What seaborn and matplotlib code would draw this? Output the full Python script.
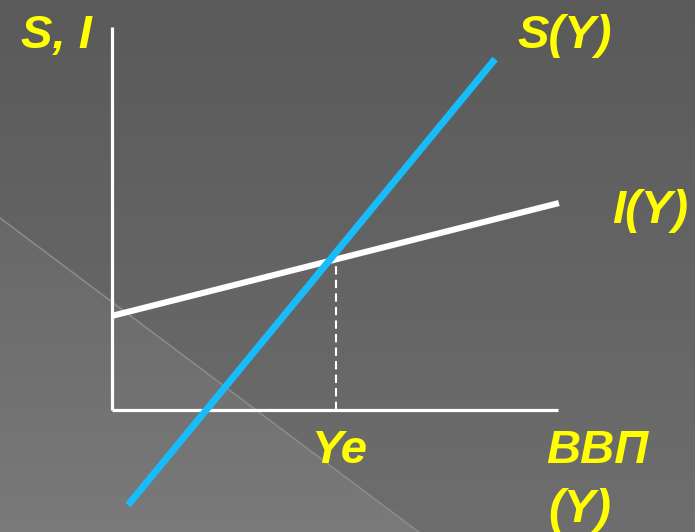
import numpy as np
import pandas as pd
import seaborn as sns
import matplotlib.pyplot as plt

# данные модели: сбережения S(Y) и инвестиции I(Y)
y_save = [0.36, 8.59]
s_vals = [-2.13, 7.87]
y_inv = [0.0, 10.02]
i_vals = [2.11, 4.64]
y_e = 5.02
si_e = 3.43
x_axis_end = 10.0
y_axis_top = 8.59

labels = {'si': 'S, I', 's': 'S(Y)', 'i': 'I(Y)', 'ye': 'Ye', 'gdp': 'ВВП', 'gdp2': '(Y)'}

sns.set_style('dark')
plt.rcParams['font.family'] = ['Liberation Sans', 'DejaVu Sans']

W, H = 695, 532
px = 44.6  # пикселей на единицу
fig = plt.figure(figsize=(W / 100, H / 100), dpi=100)
ax = fig.add_axes([0, 0, 1, 1])
x0, y0 = 112, 410
xlim = (-x0 / px, (W - x0) / px)
ylim = (-(H - y0) / px, y0 / px)

# фон: серый градиент + светлый треугольник слева внизу
yy, xx = np.mgrid[0:H, 0:W]
bg = 0x5a + (yy / H) * 0x14
tri = yy > 218 + 0.75 * xx
bg = np.where(tri, 0x68 + ((yy - 218) / (H - 218)) * 0x12, bg)
img = np.dstack([bg, bg, bg]) / 255.0
ax.imshow(img, extent=[xlim[0], xlim[1], ylim[0], ylim[1]], aspect='auto', zorder=0)
ax.plot([xlim[0], xlim[0] + (H - 218) / 0.75 / px], [ylim[1] - 218 / px, ylim[0]],
        color='#8a8a8a', lw=1.2, zorder=1)

# оси
ax.plot([0, 0], [0, y_axis_top], color='white', lw=2.3, solid_capstyle='butt', zorder=3)
ax.plot([0, x_axis_end], [0, 0], color='white', lw=2.3, solid_capstyle='butt', zorder=3)

inv = pd.DataFrame({'Y': y_inv, 'I': i_vals})
sav = pd.DataFrame({'Y': y_save, 'S': s_vals})
sns.lineplot(data=inv, x='Y', y='I', color='white', lw=4.4, solid_capstyle='butt', ax=ax, zorder=4)
sns.lineplot(data=sav, x='Y', y='S', color='#19bcfb', lw=5.0, solid_capstyle='butt', ax=ax, zorder=5)
ax.plot([y_e, y_e], [0, si_e], color='white', lw=1.5, dashes=(4, 2.5), zorder=3)

ax.set_xlim(*xlim)
ax.set_ylim(*ylim)
ax.axis('off')

tkw = dict(color='#ffff00', fontsize=34, fontweight='bold', fontstyle='italic',
           ha='left', va='baseline')
fig.text(21 / W, 1 - 48 / H, labels['si'], **tkw)
fig.text(517 / W, 1 - 48 / H, labels['s'], **tkw)
fig.text(612 / W, 1 - 223 / H, labels['i'], **tkw)
fig.text(311 / W, 1 - 463 / H, labels['ye'], **tkw)
fig.text(546 / W, 1 - 463 / H, labels['gdp'], **tkw)
fig.text(548 / W, 1 - 522 / H, labels['gdp2'], **tkw)

fig.savefig('out.png', dpi=100)
